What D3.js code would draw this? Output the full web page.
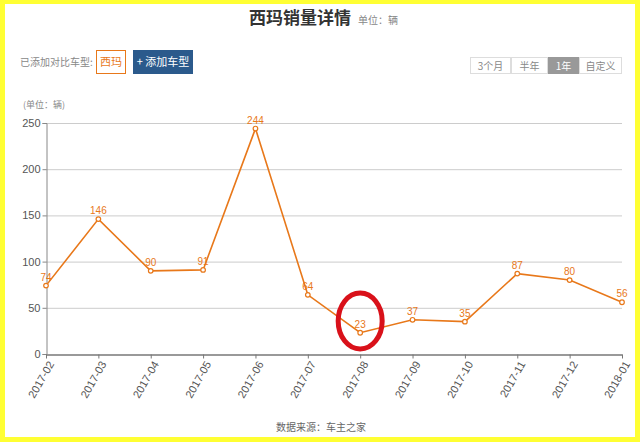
<!DOCTYPE html>
<html><head><meta charset="utf-8">
<script src="https://cdn.jsdelivr.net/npm/d3@7"></script>
<style>
html,body{margin:0;padding:0;background:#fff;}
svg{display:block;font-family:"Microsoft YaHei","Noto Sans CJK SC",sans-serif;}
</style></head>
<body>
<svg id="c" width="640" height="442"></svg>
<script>
const categories = ["2017-02","2017-03","2017-04","2017-05","2017-06","2017-07","2017-08","2017-09","2017-10","2017-11","2017-12","2018-01"];
const sales = [74,146,90,91,244,64,23,37,35,87,80,56];
const yTicks = [0,50,100,150,200,250];
const rangeButtons = ["3个月","半年","1年","自定义"];

const svg = d3.select("#c");
const W = 640, H = 442;
// yellow frame
svg.append("rect").attr("x",0).attr("y",0).attr("width",W).attr("height",H).attr("fill","#ffff33");
svg.append("rect").attr("x",5).attr("y",4).attr("width",W-10).attr("height",H-9).attr("fill","#fff");

const CN = '"Noto Sans CJK SC",sans-serif';
// title
svg.append("text").attr("x",300).attr("y",24).attr("text-anchor","middle")
  .attr("font-size",17).attr("font-weight","bold").attr("fill","#333").style("font-family",CN).text("西玛销量详情");
svg.append("text").attr("x",358).attr("y",24).attr("font-size",10).attr("fill","#888").style("font-family",CN).text("单位：辆");

// compare row
svg.append("text").attr("x",20).attr("y",66).attr("font-size",10).attr("fill","#888").style("font-family",CN).text("已添加对比车型:");
svg.append("rect").attr("x",96.5).attr("y",50.5).attr("width",29).attr("height",23).attr("fill","#fff").attr("stroke","#e8781a");
svg.append("text").attr("x",111).attr("y",66).attr("text-anchor","middle").attr("font-size",11).attr("fill","#e8781a").style("font-family",CN).text("西玛");
svg.append("rect").attr("x",133).attr("y",50).attr("width",60).attr("height",24).attr("fill","#2b5a8c");
svg.append("text").attr("x",163).attr("y",66).attr("text-anchor","middle").attr("font-size",11).attr("fill","#fff").style("font-family",CN).text("+ 添加车型");

// range buttons
const bx = [470,511,548,579], bw = [41,37,31,43];
rangeButtons.forEach((t,i)=>{
  const sel = t==="1年";
  svg.append("rect").attr("x",bx[i]+0.5).attr("y",57.5).attr("width",bw[i]-1).attr("height",16)
    .attr("fill",sel?"#999":"#fff").attr("stroke",sel?"#999":"#ddd");
  svg.append("text").attr("x",bx[i]+bw[i]/2).attr("y",69.5).attr("text-anchor","middle").attr("font-size",10)
    .attr("fill",sel?"#fff":"#888").style("font-family",CN).text(t);
});

// chart
const x = d3.scalePoint().domain(categories).range([46,622]);
const y = d3.scaleLinear().domain([0,250]).range([354,123]);

// grid
svg.append("g").selectAll("line").data(yTicks.filter(d=>d>0)).join("line")
  .attr("x1",46).attr("x2",622).attr("y1",d=>y(d)+0.5).attr("y2",d=>y(d)+0.5)
  .attr("stroke","#ccc").attr("stroke-width",1);

svg.append("text").attr("x",23).attr("y",108).attr("font-size",9).attr("fill","#888").style("font-family",CN).text("(单位：辆)");

const yAx = svg.append("g").attr("transform","translate(46.5,0)")
  .call(d3.axisLeft(y).tickValues(yTicks).tickSize(4).tickPadding(2));
yAx.select(".domain").attr("stroke","#888");
yAx.selectAll(".tick line").attr("stroke","#888");
yAx.selectAll("text").attr("fill","#555").attr("font-size",11).style("font-family","Arial, 'Liberation Sans', sans-serif");

const xAx = svg.append("g").attr("transform","translate(0,354.5)")
  .call(d3.axisBottom(x).tickSize(4).tickSizeOuter(0));
xAx.select(".domain").attr("stroke","#777").attr("stroke-width",1.5);
xAx.selectAll(".tick line").attr("stroke","#777");
xAx.selectAll("text").attr("fill","#555").attr("font-size",11).style("font-family","Arial, 'Liberation Sans', sans-serif")
  .attr("text-anchor","end").attr("dx",0).attr("dy",0)
  .attr("transform","translate(2,6) rotate(-60)");

// line
const line = d3.line().x((d,i)=>x(categories[i])).y(d=>y(d));
svg.append("path").datum(sales).attr("d",line).attr("fill","none").attr("stroke","#e8781a").attr("stroke-width",1.6);
svg.append("g").selectAll("circle").data(sales).join("circle")
  .attr("cx",(d,i)=>x(categories[i])).attr("cy",d=>y(d)).attr("r",2.3)
  .attr("fill","#fff").attr("stroke","#e8781a").attr("stroke-width",1.2);
svg.append("g").selectAll("text").data(sales).join("text")
  .attr("x",(d,i)=>x(categories[i])).attr("y",d=>y(d)-5).attr("text-anchor","middle")
  .attr("font-size",10).attr("fill","#e8781a").style("font-family","Arial, 'Liberation Sans', sans-serif")
  .text(d=>d);

// red circle annotation
svg.append("ellipse").attr("cx",x("2017-08")).attr("cy",321).attr("rx",22).attr("ry",28)
  .attr("fill","none").attr("stroke","#d9111a").attr("stroke-width",5);

// footer
svg.append("text").attr("x",321).attr("y",431).attr("text-anchor","middle").attr("font-size",10).attr("fill","#666").style("font-family",CN).text("数据来源：车主之家");
</script>
</body></html>
